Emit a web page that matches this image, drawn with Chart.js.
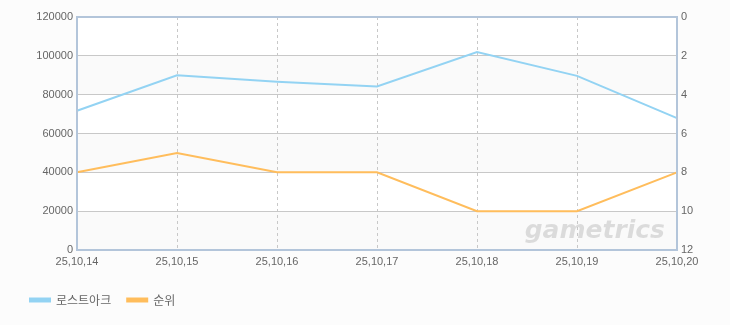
<!DOCTYPE html>
<html>
<head>
<meta charset="utf-8">
<script src="https://cdn.jsdelivr.net/npm/chart.js@4"></script>
<style>
  html, body { margin: 0; padding: 0; background: #fcfcfc; }
  #wrap { width: 730px; height: 325px; }
</style>
</head>
<body>
<div id="wrap"><canvas id="grafico"></canvas></div>
<script>
  const categorias = ['25,10,14', '25,10,15', '25,10,16', '25,10,17', '25,10,18', '25,10,19', '25,10,20'];
  const usuarios = [71700, 90000, 86700, 84200, 102000, 89700, 67900];
  const ranking = [8, 7, 8, 8, 10, 10, 8];

  const fonte = { family: "'Liberation Sans', Arial, sans-serif", size: 11 };

  // fundo com faixas, borda e marca d'agua
  const fundo = {
    id: 'fundo',
    beforeDraw(chart) {
      const { ctx, chartArea: a, scales } = chart;
      ctx.save();
      ctx.fillStyle = '#ffffff';
      ctx.fillRect(a.left, a.top, a.right - a.left, a.bottom - a.top);
      ctx.fillStyle = '#fafafa';
      for (let v = 0; v < 120000; v += 40000) {
        const y1 = scales.y.getPixelForValue(v);
        const y2 = scales.y.getPixelForValue(v + 20000);
        ctx.fillRect(a.left, y2, a.right - a.left, y1 - y2);
      }
      ctx.restore();
    },
    afterDatasetsDraw(chart) {
      const { ctx, chartArea: a } = chart;
      ctx.save();
      ctx.font = "italic bold 25px 'DejaVu Sans', sans-serif";
      ctx.fillStyle = 'rgba(0,0,0,0.12)';
      ctx.textAlign = 'right';
      ctx.textBaseline = 'alphabetic';
      ctx.fillText('gametrics', a.right - 12, a.bottom - 12);
      ctx.strokeStyle = '#b3c5da';
      ctx.lineWidth = 2;
      ctx.strokeRect(a.left, a.top, a.right - a.left, a.bottom - a.top);
      ctx.restore();
    }
  };

  const ctx = document.getElementById('grafico').getContext('2d');
  new Chart(ctx, {
    type: 'line',
    data: {
      labels: categorias,
      datasets: [{
        label: '로스트아크',
        data: usuarios,
        yAxisID: 'y',
        borderColor: '#93d3f3',
        backgroundColor: '#93d3f3',
        borderWidth: 2,
        pointRadius: 0,
        tension: 0
      }, {
        label: '순위',
        data: ranking,
        yAxisID: 'y1',
        borderColor: '#ffbd5c',
        backgroundColor: '#ffbd5c',
        borderWidth: 2,
        pointRadius: 0,
        tension: 0
      }]
    },
    options: {
      responsive: true,
      maintainAspectRatio: false,
      animation: false,
      layout: { padding: { left: 14, right: 0, top: 17, bottom: 9 } },
      plugins: {
        tooltip: { enabled: false },
        legend: {
          position: 'bottom',
          align: 'start',
          labels: {
            boxWidth: 20,
            boxHeight: 3,
            padding: 16,
            color: '#666',
            font: { family: "'Noto Sans CJK KR', sans-serif", size: 12 }
          }
        }
      },
      scales: {
        x: {
          offset: false,
          grid: { color: '#c8c8c8', drawTicks: false, tickBorderDash: [3, 3] },
          border: { display: false, dash: [3, 3] },
          ticks: { color: '#666', font: fonte, padding: 5, maxRotation: 0, autoSkip: false },
          afterFit(s) { s.height = 28; }
        },
        y: {
          position: 'left',
          min: 0,
          max: 120000,
          grid: { color: '#c8c8c8', drawTicks: false },
          border: { display: false },
          ticks: { stepSize: 20000, color: '#666', font: fonte, padding: 4, callback: v => String(v) },
          afterFit(s) { s.width = 63; }
        },
        y1: {
          position: 'right',
          reverse: true,
          min: 0,
          max: 12,
          grid: { display: false, drawTicks: false },
          border: { display: false },
          ticks: { stepSize: 2, color: '#666', font: fonte, padding: 4 },
          afterFit(s) { s.width = 53; }
        }
      }
    },
    plugins: [fundo]
  });
</script>
</body>
</html>
